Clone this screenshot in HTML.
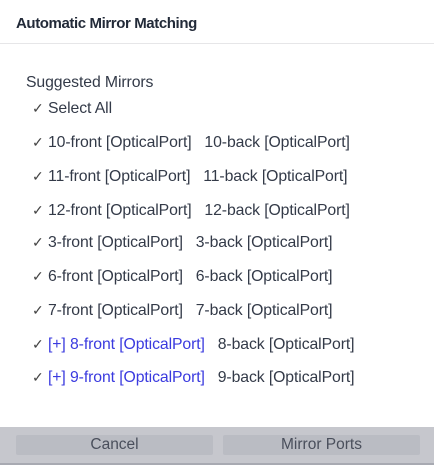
<!DOCTYPE html><html><head><style>
body{margin:0;width:434px;height:465px;background:#fff;font-family:"Liberation Sans",sans-serif;color:#333a48;position:relative;overflow:hidden}
.t{position:absolute;left:16px;top:15px;font-size:15px;font-weight:bold;color:#222a38;letter-spacing:-0.4px}
.sep{position:absolute;left:0;right:0;top:43px;height:1px;background:#e6e6e8}
.r{position:absolute;left:32px;font-size:15.8px;white-space:nowrap;letter-spacing:-0.1px}
.c{display:inline-block;width:16px;font-size:14px;color:#444}
.b{color:#3a3adf}
.ft{position:absolute;left:0;right:0;top:427px;height:36px;background:#c6c7cd}
.fl{position:absolute;left:0;right:0;top:463px;height:2px;background:#a8aab2}
.btn{position:absolute;top:435px;height:20px;background:#babcc3;border-radius:2px;text-align:center;font-size:15.5px;line-height:20px;color:#4a4f5c}
</style></head><body>
<div class="t">Automatic Mirror Matching</div>
<div class="sep"></div>
<div class="r" style="left:26px;top:74px">Suggested Mirrors</div>
<div class="r" style="top:100px"><span class="c">✓</span>Select All</div>
<div class="r" style="top:134px"><span class="c">✓</span>10-front [OpticalPort] &nbsp; 10-back [OpticalPort]</div>
<div class="r" style="top:168px"><span class="c">✓</span>11-front [OpticalPort] &nbsp; 11-back [OpticalPort]</div>
<div class="r" style="top:202px"><span class="c">✓</span>12-front [OpticalPort] &nbsp; 12-back [OpticalPort]</div>
<div class="r" style="top:234px"><span class="c">✓</span>3-front [OpticalPort] &nbsp; 3-back [OpticalPort]</div>
<div class="r" style="top:268px"><span class="c">✓</span>6-front [OpticalPort] &nbsp; 6-back [OpticalPort]</div>
<div class="r" style="top:302px"><span class="c">✓</span>7-front [OpticalPort] &nbsp; 7-back [OpticalPort]</div>
<div class="r" style="top:336px"><span class="c">✓</span><span class="b">[+] 8-front [OpticalPort]</span> &nbsp; 8-back [OpticalPort]</div>
<div class="r" style="top:369px"><span class="c">✓</span><span class="b">[+] 9-front [OpticalPort]</span> &nbsp; 9-back [OpticalPort]</div>
<div class="ft"></div><div class="fl"></div>
<div class="btn" style="left:16px;width:197px">Cancel</div>
<div class="btn" style="left:223px;width:197px">Mirror Ports</div>
</body></html>
